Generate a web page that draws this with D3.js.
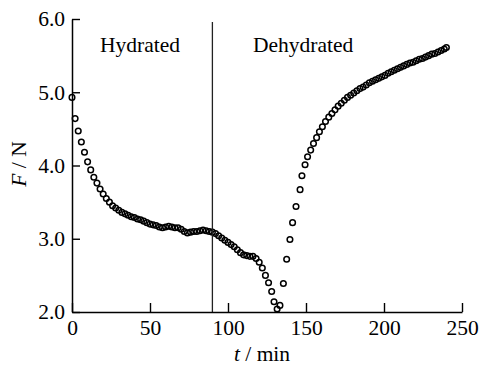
<!DOCTYPE html>
<html>
<head>
<meta charset="utf-8">
<script src="https://cdn.jsdelivr.net/npm/d3@7"></script>
<style>
  html, body { margin: 0; padding: 0; background: #fff; }
  svg { display: block; }
  svg text { font-family: "Liberation Serif", "DejaVu Serif", serif !important; fill: #000; }
</style>
</head>
<body>
<svg id="chart" width="481" height="365"></svg>
<script>
// ---- data ----
const timeMin = [
  0, 2, 4, 6, 8, 10, 12, 14, 16, 18, 20, 22, 24, 26, 28, 30, 32, 34, 36, 38,
  40, 42, 44, 46, 48, 50, 52, 54, 56, 58, 60, 62, 64, 66, 68, 70, 72, 74, 76, 78,
  80, 82, 84, 86, 88, 90, 92, 94, 96, 98, 100, 102, 104, 106, 108, 110, 112, 114, 116, 118,
  120, 122, 124, 126, 128, 129.5, 131.5, 133.3, 135.5, 137.6, 139.7, 141.4, 143.6, 146.2, 147.4,
  149.4, 151, 153, 154.8, 156.8, 158.6, 160.5, 162.5, 164.6, 166.6, 168.6, 170.6, 172.6, 174.6,
  176.6, 178.6, 180.6, 182.6, 184.6, 186.6, 188.6, 190.6, 192.6, 194.6, 196.6, 198.6, 200.6,
  202.6, 204.6, 206.6, 208.6, 210.6, 212.6, 214.6, 216.6, 218.6, 220.6, 222.6, 224.6, 226.6,
  228.6, 230.6, 232.6, 234.6, 236.6, 238.6, 240
];
const forceN = [
  4.93, 4.64, 4.47, 4.32, 4.18, 4.05, 3.94, 3.84, 3.76, 3.68, 3.61, 3.55, 3.50, 3.45, 3.42, 3.39, 3.36, 3.34, 3.32, 3.30,
  3.29, 3.27, 3.26, 3.24, 3.22, 3.20, 3.19, 3.18, 3.16, 3.15, 3.16, 3.17, 3.16, 3.15, 3.15, 3.13, 3.10, 3.08, 3.09, 3.10,
  3.10, 3.11, 3.12, 3.11, 3.10, 3.09, 3.07, 3.04, 3.01, 2.98, 2.95, 2.92, 2.89, 2.85, 2.81, 2.78, 2.77, 2.76, 2.76, 2.73,
  2.68, 2.60, 2.50, 2.40, 2.28, 2.14, 2.04, 2.09, 2.39, 2.72, 2.99, 3.22, 3.44, 3.67, 3.86,
  4.01, 4.12, 4.21, 4.30, 4.38, 4.46, 4.53, 4.60, 4.66, 4.71, 4.76, 4.81, 4.85, 4.89,
  4.93, 4.96, 4.99, 5.02, 5.05, 5.07, 5.10, 5.13, 5.15, 5.17, 5.19, 5.21, 5.23,
  5.26, 5.28, 5.30, 5.32, 5.34, 5.36, 5.38, 5.40, 5.41, 5.43, 5.45, 5.46, 5.48,
  5.50, 5.52, 5.53, 5.55, 5.57, 5.59, 5.61, 5.62
];
const xTicks = [0, 50, 100, 150, 200, 250];
const yTicks = [2.0, 3.0, 4.0, 5.0, 6.0];
const dividerTime = 90;
const phaseLabels = ["Hydrated", "Dehydrated"];

// ---- layout ----
const svg = d3.select("#chart");
const x = d3.scaleLinear().domain([0, 250]).range([72, 462]);
const y = d3.scaleLinear().domain([2, 6]).range([312, 19]);
const FONT = 21.5;
const SERIF = "'Liberation Serif', 'DejaVu Serif', serif";

// points
const pts = timeMin.map((t, i) => ({ t, f: forceN[i] }));
svg.append("g")
  .selectAll("circle")
  .data(pts)
  .join("circle")
  .attr("cx", d => x(d.t))
  .attr("cy", d => y(d.f))
  .attr("r", 2.8)
  .attr("fill", "none")
  .attr("stroke", "#000")
  .attr("stroke-width", 1.5);

// divider line
svg.append("line")
  .attr("x1", x(dividerTime)).attr("x2", x(dividerTime))
  .attr("y1", 22).attr("y2", 312)
  .attr("stroke", "#222").attr("stroke-width", 1.3);

// x axis
const xAxis = d3.axisBottom(x).tickValues(xTicks).tickSizeInner(-9).tickSizeOuter(0)
  .tickPadding(8).tickFormat(d3.format("d"));
const gx = svg.append("g").attr("transform", "translate(0,312)").call(xAxis)
  .attr("font-family", SERIF).attr("font-size", FONT);
gx.select(".domain").attr("stroke", "#000").attr("stroke-width", 1.5);
gx.selectAll(".tick line").attr("stroke", "#000").attr("stroke-width", 1.4);
gx.selectAll(".tick text").attr("fill", "#000");

// y axis
const yAxis = d3.axisLeft(y).tickValues(yTicks).tickSizeInner(-8).tickSizeOuter(0)
  .tickPadding(7).tickFormat(d3.format(".1f"));
const gy = svg.append("g").attr("transform", "translate(72,0)").call(yAxis)
  .attr("font-family", SERIF).attr("font-size", FONT);
gy.select(".domain").attr("stroke", "#000").attr("stroke-width", 1.5);
gy.selectAll(".tick line").attr("stroke", "#000").attr("stroke-width", 1.4);
gy.selectAll(".tick text").attr("fill", "#000");

// phase labels
svg.append("text").attr("x", 100).attr("y", 52).attr("font-family", SERIF).attr("font-size", FONT).text(phaseLabels[0]);
svg.append("text").attr("x", 253).attr("y", 52).attr("font-family", SERIF).attr("font-size", FONT).text(phaseLabels[1]);

// axis titles
const yt = svg.append("text")
  .attr("transform", "translate(26,164) rotate(-90)")
  .attr("text-anchor", "middle").attr("font-family", SERIF).attr("font-size", FONT);
yt.append("tspan").attr("font-style", "italic").text("F");
yt.append("tspan").text(" / N");

const xt = svg.append("text")
  .attr("x", 262).attr("y", 361)
  .attr("text-anchor", "middle").attr("font-family", SERIF).attr("font-size", FONT);
xt.append("tspan").attr("font-style", "italic").text("t");
xt.append("tspan").text(" / min");
</script>
</body>
</html>
